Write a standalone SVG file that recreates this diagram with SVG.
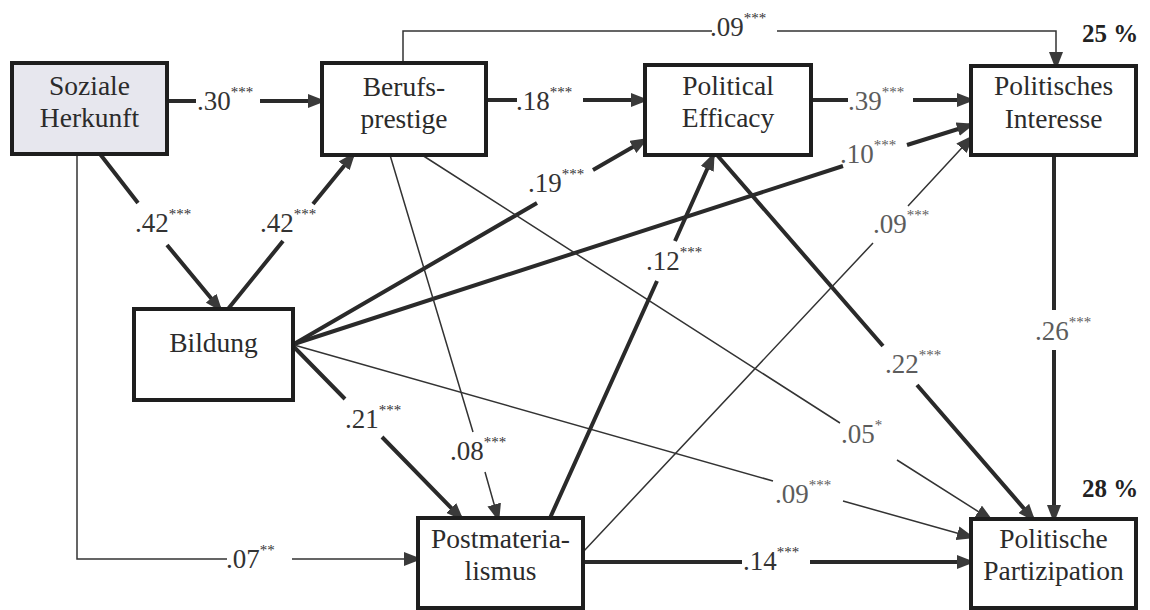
<svg xmlns="http://www.w3.org/2000/svg" width="1150" height="610" viewBox="0 0 1150 610" font-family="'Liberation Serif', 'DejaVu Serif', 'Times New Roman', serif">
  <defs>
    <style>
      .box { stroke:#1e1e1e; stroke-width:4; fill:#fff; }
      .box.src { fill:#e7e7ee; }
      text { font-family:'Liberation Serif', 'DejaVu Serif', 'Times New Roman', serif; }
      .lbl { font-size:27.5px; fill:#2b2b2b; text-anchor:middle; }
      .coef { font-size:27px; fill:#333; }
      .coef.light { fill:#5c5c5c; }
      .sup { font-size:15px; }
      .pct { font-size:25px; font-weight:bold; fill:#222; }
      .thick { stroke:#2a2a2a; stroke-width:4; fill:none; marker-end:url(#ah); }
      .thin { stroke:#333; stroke-width:1.5; fill:none; marker-end:url(#ah); }
    </style>
    <marker id="ah" markerUnits="userSpaceOnUse" viewBox="0 0 18 14" markerWidth="18" markerHeight="14" refX="14" refY="7" orient="auto">
      <path d="M0,0 L18,7 L0,14 z" fill="#3a3a3a"/>
    </marker>
  </defs>

  <rect width="1150" height="610" fill="#fff"/>

  <!-- paths with their coefficients -->
  <g id="connectors">
    <path class="thick" d="M167,101 H196 M260,101 H322"/>
    <path class="thick" d="M486,100 H517 M583,100 H645"/>
    <path class="thick" d="M811,100 H848 M913,100 H971"/>
    <path class="thin" d="M403,63 V31 H712 M777,31 H1056 V66"/>
    <path class="thick" d="M100,154 L138,203 M167,245 L220,309"/>
    <path class="thick" d="M228,309 L283,241 M313,204 L353,155"/>
    <path class="thick" d="M294,344 L537,203 M593,170 L645,140"/>
    <path class="thick" d="M294,344 L843,166 M907,145 L971,125"/>
    <path class="thin" d="M294,345 L773,481 M843,501 L971,537"/>
    <path class="thick" d="M294,347 L345,399 M382,437 L461,518"/>
    <path class="thin" d="M390,155 L473,432 M485,472 L498,518"/>
    <path class="thin" d="M422,155 L840,423 M897,460 L990,519"/>
    <path class="thick" d="M717,155 L883,346 M917,385 L1033,519"/>
    <path class="thick" d="M550,518 L657,281 M675,241 L713,156"/>
    <path class="thin" d="M583,552 L873,243 M908,206 L971,138"/>
    <path class="thick" d="M583,562 H742 M810,562 H971"/>
    <path class="thick" d="M1054,155 V310 M1054,350 V519"/>
    <path class="thin" d="M77,154 V559 H227 M292,559 H418"/>

    <text class="coef" x="197" y="110">.30<tspan class="sup" dy="-13">***</tspan></text>
    <text class="coef" x="516" y="110">.18<tspan class="sup" dy="-13">***</tspan></text>
    <text class="coef light" x="848" y="110">.39<tspan class="sup" dy="-13">***</tspan></text>
    <text class="coef" x="710" y="36">.09<tspan class="sup" dy="-13">***</tspan></text>
    <text class="coef" x="135" y="232">.42<tspan class="sup" dy="-13">***</tspan></text>
    <text class="coef" x="260" y="232">.42<tspan class="sup" dy="-13">***</tspan></text>
    <text class="coef" x="528" y="192">.19<tspan class="sup" dy="-13">***</tspan></text>
    <text class="coef light" x="840" y="163">.10<tspan class="sup" dy="-13">***</tspan></text>
    <text class="coef light" x="775" y="503">.09<tspan class="sup" dy="-13">***</tspan></text>
    <text class="coef" x="345" y="428">.21<tspan class="sup" dy="-13">***</tspan></text>
    <text class="coef" x="450" y="460">.08<tspan class="sup" dy="-13">***</tspan></text>
    <text class="coef light" x="841" y="443">.05<tspan class="sup" dy="-13">*</tspan></text>
    <text class="coef light" x="885" y="373">.22<tspan class="sup" dy="-13">***</tspan></text>
    <text class="coef" x="646" y="270">.12<tspan class="sup" dy="-13">***</tspan></text>
    <text class="coef light" x="873" y="233">.09<tspan class="sup" dy="-13">***</tspan></text>
    <text class="coef" x="743" y="570">.14<tspan class="sup" dy="-13">***</tspan></text>
    <text class="coef light" x="1035" y="340">.26<tspan class="sup" dy="-13">***</tspan></text>
    <text class="coef" x="226" y="568">.07<tspan class="sup" dy="-13">**</tspan></text>
  </g>

  <g id="soziale-herkunft">
    <rect class="box src" x="12" y="63" width="155" height="91"/>
    <text class="lbl" x="89.5" y="95">Soziale</text>
    <text class="lbl" x="89.5" y="127">Herkunft</text>
  </g>

  <g id="berufsprestige">
    <rect class="box" x="322" y="63" width="164" height="92"/>
    <text class="lbl" x="404" y="96">Berufs-</text>
    <text class="lbl" x="404" y="128">prestige</text>
  </g>

  <g id="political-efficacy">
    <rect class="box" x="645" y="65" width="166" height="90"/>
    <text class="lbl" x="728" y="95">Political</text>
    <text class="lbl" x="728" y="127">Efficacy</text>
  </g>

  <g id="politisches-interesse">
    <rect class="box" x="971" y="66" width="165" height="89"/>
    <text class="lbl" x="1053.5" y="95">Politisches</text>
    <text class="lbl" x="1053.5" y="128">Interesse</text>
    <text class="pct" x="1082" y="42">25 %</text>
  </g>

  <g id="bildung">
    <rect class="box" x="134" y="309" width="159" height="91"/>
    <text class="lbl" x="213.5" y="352">Bildung</text>
  </g>

  <g id="postmaterialismus">
    <rect class="box" x="418" y="518" width="165" height="90"/>
    <text class="lbl" x="500.5" y="548">Postmateria-</text>
    <text class="lbl" x="500.5" y="580">lismus</text>
  </g>

  <g id="politische-partizipation">
    <rect class="box" x="971" y="519" width="165" height="89"/>
    <text class="lbl" x="1053.5" y="548">Politische</text>
    <text class="lbl" x="1053.5" y="580">Partizipation</text>
    <text class="pct" x="1082" y="497">28 %</text>
  </g>
</svg>
